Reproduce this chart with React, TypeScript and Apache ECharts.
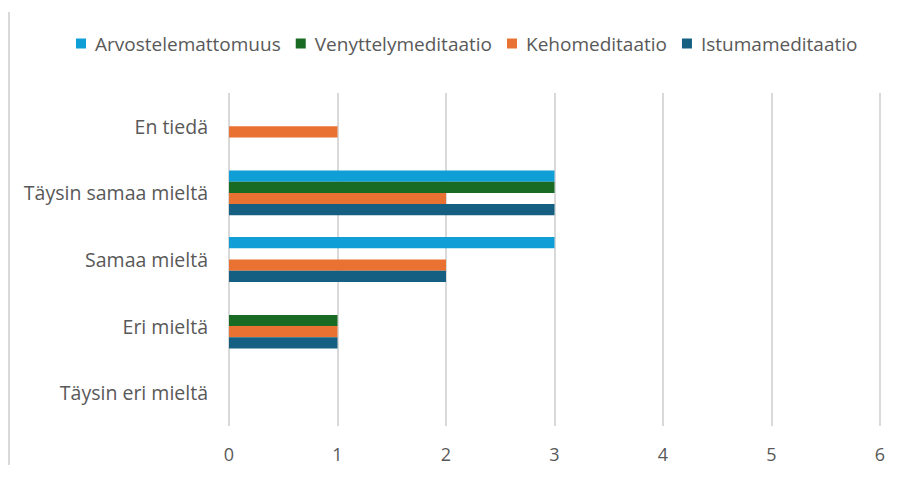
import React, { useEffect, useRef } from "react";
import * as echarts from "echarts";

const categories = ["Täysin eri mieltä", "Eri mieltä", "Samaa mieltä", "Täysin samaa mieltä", "En tiedä"];
const istumameditaatio = [0, 1, 2, 3, 0];
const kehomeditaatio = [0, 1, 2, 2, 1];
const venyttelymeditaatio = [0, 1, 0, 3, 0];
const arvostelemattomuus = [0, 0, 3, 3, 0];
const legendOrder = ["Arvostelemattomuus", "Venyttelymeditaatio", "Kehomeditaatio", "Istumameditaatio"];

const FONT = "'Open Sans', 'Noto Sans', sans-serif";
const TXT = "#595959";

export default function App() {
  const ref = useRef<HTMLDivElement>(null);
  useEffect(() => {
    if (!ref.current) return;
    const chart = echarts.init(ref.current, undefined, { renderer: "svg" });
    const mk = (name: string, data: number[], color: string) => ({
      name,
      type: "bar",
      data,
      barWidth: 11.2,
      barGap: "0%",
      itemStyle: { color },
    });
    chart.setOption({
      animation: false,
      textStyle: { fontFamily: FONT },
      legend: {
        data: legendOrder,
        top: 29,
        left: 71,
        itemWidth: 10,
        itemHeight: 10,
        itemGap: 15,
        icon: "rect",
        textStyle: { color: TXT, fontSize: 19, fontFamily: FONT, padding: [0, 0, 0, 4] },
      },
      grid: { left: 229, right: 24, top: 93, bottom: 51, containLabel: false },
      xAxis: {
        type: "value",
        min: 0,
        max: 6,
        interval: 1,
        axisLine: { show: false },
        axisTick: { show: false },
        axisLabel: { color: TXT, fontSize: 18, margin: 19, fontFamily: FONT },
        splitLine: { lineStyle: { color: "#d9d9d9", width: 2 } },
      },
      yAxis: {
        type: "category",
        data: categories,
        axisLine: { show: false },
        axisTick: { show: false },
        axisLabel: { color: TXT, fontSize: 19.5, margin: 21, fontFamily: FONT },
      },
      graphic: [
        {
          type: "line",
          shape: { x1: 9, y1: 12, x2: 9, y2: 465 },
          style: { stroke: "#d9d9d9", lineWidth: 2 },
        },
      ],
      series: [
        mk("Arvostelemattomuus", arvostelemattomuus, "#0f9ed5"),
        mk("Venyttelymeditaatio", venyttelymeditaatio, "#196b24"),
        mk("Kehomeditaatio", kehomeditaatio, "#e97132"),
        mk("Istumameditaatio", istumameditaatio, "#156082"),
      ],
    });
    return () => chart.dispose();
  }, []);
  return (
    <div
      ref={ref}
      style={{ position: "fixed", left: 0, top: 0, width: 904, height: 477, background: "#fff" }}
    />
  );
}
